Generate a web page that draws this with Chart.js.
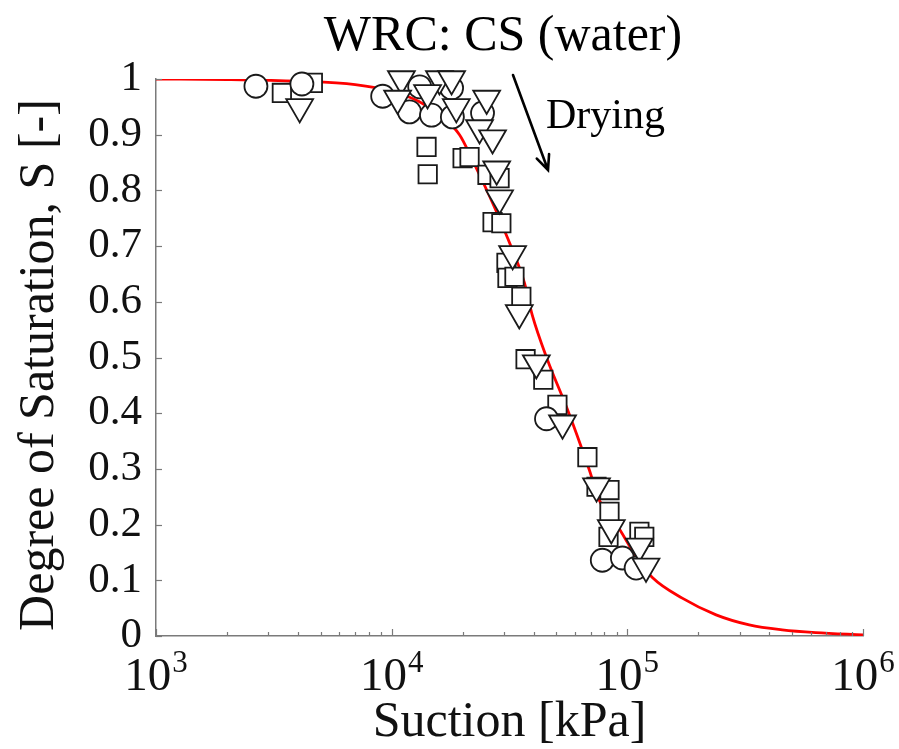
<!DOCTYPE html>
<html>
<head>
<meta charset="utf-8">
<title>WRC: CS (water)</title>
<script src="https://cdn.jsdelivr.net/npm/chart.js@4.4.0/dist/chart.umd.min.js"></script>
<style>
    body { margin: 0; background: #fff; }
    #wrap { width: 899px; height: 749px; }
</style>
</head>
<body>
<div id="wrap"><canvas id="wrcCanvas" width="899" height="749"></canvas></div>
<script>
// fitted curve
var fitSuction = [1000, 2000, 4000, 7000, 10000, 13000, 16000, 19400, 22000, 26000, 31000, 36600, 39500, 45800, 55200, 63800, 69000, 76000, 90000, 110000, 127700, 171000, 238000, 329000, 454000, 630000, 1000000];
var fitS = [1.0, 0.999, 0.996, 0.99, 0.978, 0.96, 0.935, 0.9, 0.855, 0.79, 0.715, 0.634, 0.576, 0.496, 0.411, 0.339, 0.298, 0.244, 0.2, 0.14, 0.105, 0.068, 0.038, 0.02, 0.011, 0.006, 0.002];

// squares
var sqSuction = [3420, 4630, 14060, 14220, 20000, 21400, 25500, 28700, 26800, 29200, 30700, 31000, 33200, 35500, 37000, 44000, 50500, 67700, 74000, 84000, 84000, 83200, 112500, 118000];
var sqS = [0.975, 0.993, 0.878, 0.829, 0.858, 0.860, 0.828, 0.822, 0.743, 0.741, 0.670, 0.643, 0.645, 0.609, 0.497, 0.460, 0.415, 0.321, 0.268, 0.262, 0.223, 0.178, 0.187, 0.178];

// circles
var ciSuction = [2655, 4160, 9160, 13150, 11900, 14760, 18100, 17960, 24300, 45400, 78300, 95300, 109000];
var ciS = [0.987, 0.991, 0.969, 0.986, 0.941, 0.935, 0.932, 0.984, 0.939, 0.390, 0.136, 0.140, 0.122];

// triangles (pointing down)
var trSuction = [4070, 11000, 10600, 15950, 17960, 14200, 18800, 25300, 23600, 26800, 27900, 28700, 32600, 34800, 41100, 53100, 74000, 85500, 112500, 120000];
var trS = [0.95, 1.0, 0.965, 1.0, 1.0, 0.975, 0.95, 0.965, 0.912, 0.894, 0.838, 0.786, 0.686, 0.58, 0.49, 0.382, 0.269, 0.194, 0.161, 0.125];

var xDecades = [3, 4, 5, 6];

function toPoints(xs, ys) {
    var pts = [];
    for (var i = 0; i < xs.length; i++) {
        pts.push({x: xs[i], y: ys[i]});
    }
    return pts;
}

var serif = '"Liberation Serif", "Times New Roman", serif';
var edge = '#1a1a1a';
var axisGrey = '#7a7a7a';

// titles, arrow, x tick labels with exponents and inward ticks
var extras = {
    id: 'extras',
    afterDraw: function(chart) {
        var ctx = chart.ctx;
        var xs = chart.scales.x, ys = chart.scales.y;
        var area = chart.chartArea;
        var i, d, m, px, py;

        ctx.save();
        ctx.strokeStyle = axisGrey;
        ctx.lineWidth = 1.2;
        // x ticks, minor and major
        for (d = 3; d < 6; d++) {
            for (m = 1; m <= 9; m++) {
                px = Math.round(xs.getPixelForValue(m * Math.pow(10, d))) + 0.5;
                var len = (m == 1) ? 7 : 4;
                ctx.beginPath();
                ctx.moveTo(px, area.bottom);
                ctx.lineTo(px, area.bottom - len);
                ctx.stroke();
            }
        }
        px = Math.round(xs.getPixelForValue(1e6)) + 0.5;
        ctx.beginPath();
        ctx.moveTo(px, area.bottom);
        ctx.lineTo(px, area.bottom - 7);
        ctx.stroke();
        // y ticks
        for (i = 0; i <= 10; i++) {
            py = Math.round(ys.getPixelForValue(i / 10)) + 0.5;
            ctx.beginPath();
            ctx.moveTo(area.left, py);
            ctx.lineTo(area.left + 6, py);
            ctx.stroke();
        }

        // x tick labels 10^n
        ctx.fillStyle = '#111';
        ctx.textBaseline = 'alphabetic';
        ctx.textAlign = 'left';
        for (i = 0; i < xDecades.length; i++) {
            px = xs.getPixelForValue(Math.pow(10, xDecades[i]));
            ctx.font = '47px ' + serif;
            var wBase = ctx.measureText('10').width;
            ctx.font = '31px ' + serif;
            var wExp = ctx.measureText(String(xDecades[i])).width;
            var x0 = px - (wBase + wExp + 1) / 2;
            ctx.font = '47px ' + serif;
            ctx.fillText('10', x0, 690);
            ctx.font = '31px ' + serif;
            ctx.fillText(String(xDecades[i]), x0 + wBase + 1, 672);
        }

        // axis titles
        ctx.font = '50px ' + serif;
        ctx.textAlign = 'center';
        ctx.fillText('Suction [kPa]', (area.left + area.right) / 2, 736);
        ctx.save();
        ctx.translate(40, 365);
        ctx.rotate(-Math.PI / 2);
        ctx.textBaseline = 'middle';
        ctx.fillText('Degree of Saturation, S [-]', 0, 0);
        ctx.restore();

        // chart title
        ctx.font = '50px ' + serif;
        ctx.textBaseline = 'alphabetic';
        ctx.fillStyle = '#000';
        ctx.fillText('WRC: CS (water)', 503, 50);

        // drying arrow
        ctx.font = '42px ' + serif;
        ctx.textAlign = 'left';
        ctx.fillText('Drying', 546, 128);
        ctx.strokeStyle = '#000';
        ctx.lineWidth = 2.6;
        ctx.lineCap = 'round';
        var ax = 513, ay = 75, bx = 548, by = 170;
        var ang = Math.atan2(by - ay, bx - ax);
        ctx.beginPath();
        ctx.moveTo(ax, ay);
        ctx.lineTo(bx, by);
        ctx.moveTo(bx - 16 * Math.cos(ang - 0.42), by - 16 * Math.sin(ang - 0.42));
        ctx.lineTo(bx, by);
        ctx.lineTo(bx - 16 * Math.cos(ang + 0.42), by - 16 * Math.sin(ang + 0.42));
        ctx.stroke();
        ctx.restore();
    }
};

var ctx = document.getElementById('wrcCanvas');
var wrcChart = new Chart(ctx, {
    type: 'scatter',
    data: {
        datasets: [{
            label: 'fit',
            data: toPoints(fitSuction, fitS),
            showLine: true,
            borderColor: '#ff0000',
            borderWidth: 2.8,
            pointRadius: 0,
            cubicInterpolationMode: 'monotone',
            order: 4
        }, {
            label: 'squares',
            data: toPoints(sqSuction, sqS),
            pointStyle: 'rect',
            pointRadius: 13,
            backgroundColor: '#ffffff',
            borderColor: edge,
            borderWidth: 1.8,
            clip: false,
            order: 3
        }, {
            label: 'circles',
            data: toPoints(ciSuction, ciS),
            pointStyle: 'circle',
            pointRadius: 11.5,
            backgroundColor: '#ffffff',
            borderColor: edge,
            borderWidth: 1.8,
            clip: false,
            order: 2
        }, {
            label: 'triangles',
            data: toPoints(trSuction, trS),
            pointStyle: 'triangle',
            pointRotation: 180,
            pointRadius: 15.5,
            backgroundColor: '#ffffff',
            borderColor: edge,
            borderWidth: 1.8,
            clip: false,
            order: 1
        }]
    },
    options: {
        responsive: false,
        animation: false,
        events: [],
        layout: {
            padding: {top: 79, right: 36, left: 0, bottom: 0}
        },
        plugins: {
            legend: {display: false},
            tooltip: {enabled: false},
            title: {display: false}
        },
        scales: {
            x: {
                type: 'logarithmic',
                min: 1000,
                max: 1000000,
                grid: {display: false, drawTicks: false},
                border: {display: true, color: axisGrey, width: 1.5},
                ticks: {display: false},
                afterFit: function(scale) { scale.height = 113; }
            },
            y: {
                type: 'linear',
                min: 0,
                max: 1,
                grid: {display: false, drawTicks: false},
                border: {display: true, color: axisGrey, width: 1.5},
                ticks: {
                    stepSize: 0.1,
                    padding: 14,
                    color: '#111',
                    font: {family: serif, size: 43},
                    callback: function(v) { return String(+v.toFixed(1)); }
                },
                afterFit: function(scale) { scale.width = 156; }
            }
        }
    },
    plugins: [extras]
});
</script>
</body>
</html>
